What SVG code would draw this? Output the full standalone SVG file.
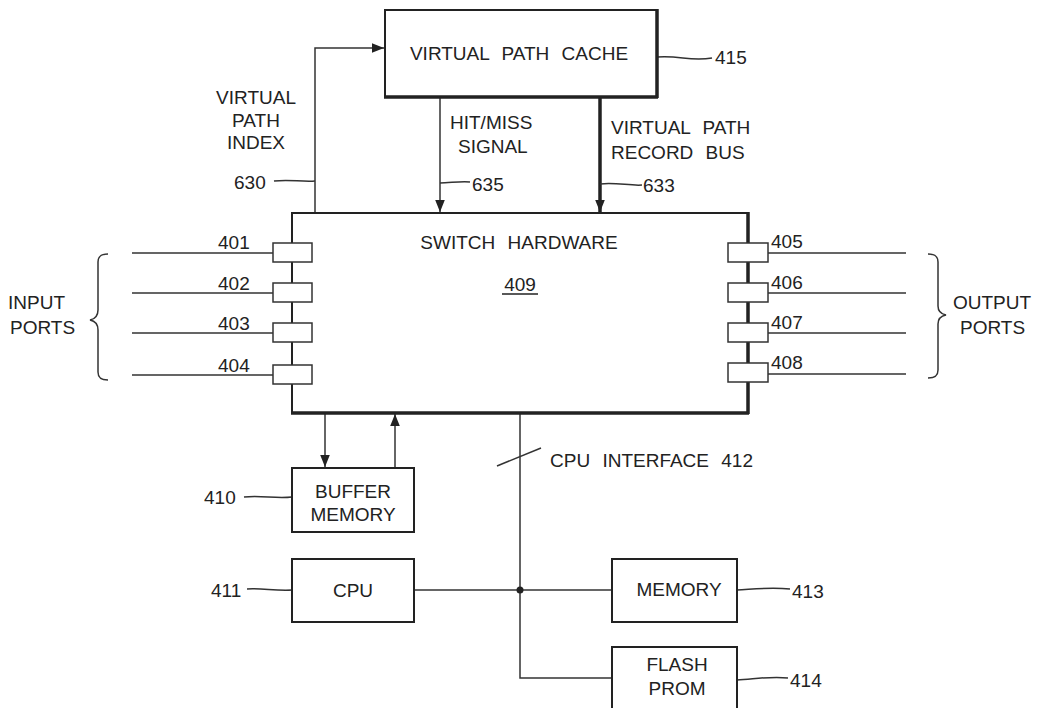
<svg xmlns="http://www.w3.org/2000/svg" width="1042" height="708" viewBox="0 0 1042 708">
<defs>
<style>
.box{fill:#fff;stroke:#222;stroke-width:2}
.thick{stroke:#222;stroke-width:3.5;fill:none}
.ln{stroke:#333;stroke-width:1.5;fill:none}
.port{fill:#fff;stroke:#333;stroke-width:1.5}
text{font-family:"Liberation Sans",Arial,sans-serif;font-size:19px;fill:#222;word-spacing:7px}
.c{text-anchor:middle}
</style>
<marker id="ahb" viewBox="0 0 10 10" refX="10" refY="5" markerWidth="14" markerHeight="12" markerUnits="userSpaceOnUse" orient="auto">
<path d="M0,1 L10,5 L0,9 z" fill="#222"/>
</marker>
</defs>
<rect width="1042" height="708" fill="#fff"/>

<g id="connectors">
<path class="ln" d="M315,213 V48 H384" marker-end="url(#ahb)"/>
<path class="ln" d="M440,97 V212" marker-end="url(#ahb)"/>
<path class="thick" d="M600,97 V212" marker-end="url(#ahb)"/>
<path class="ln" d="M325,413 V467" marker-end="url(#ahb)"/>
<path class="ln" d="M395,468 V414" marker-end="url(#ahb)"/>
<path class="ln" d="M520,413 V678 H612"/>
<path class="ln" d="M414,590 H612"/>
<circle cx="520" cy="590" r="3.5" fill="#222"/>
<path class="ln" d="M497,466 L541,448"/>
<path class="ln" d="M132,253 H273 M132,293 H273 M132,333 H273 M132,375 H273"/>
<path class="ln" d="M768,253 H906 M768,293 H906 M768,333 H906 M768,374 H906"/>
<path class="ln" d="M657,57 C680,55 690,62 712,58"/>
<path class="ln" d="M274,181 C290,179 300,182 315,181"/>
<path class="ln" d="M440,183 C450,183 460,181 470,182"/>
<path class="ln" d="M600,184 C615,182 630,186 642,185"/>
<path class="ln" d="M244,497 C262,495 275,499 292,497"/>
<path class="ln" d="M247,589 C262,588 275,591 292,590"/>
<path class="ln" d="M737,590 C755,589 770,587 790,589"/>
<path class="ln" d="M737,680 C755,679 770,676 788,678"/>
<path class="ln" d="M108,254 C100,254 98,257 98,262 V310 C98,316 95,319 90,320 C95,321 98,324 98,330 V372 C98,377 100,380 108,380"/>
<path class="ln" d="M928,254 C936,254 938,257 938,262 V306 C938,311 941,314 946,315 C941,316 938,319 938,324 V370 C938,375 936,378 928,378"/>
</g>

<g id="n415">
<rect class="box" x="385" y="10" width="272" height="87"/>
<path class="thick" d="M657,9 V98 M384,97 H658"/>
<text class="c" x="519" y="60">VIRTUAL PATH CACHE</text>
<text x="715" y="64">415</text>
</g>

<g id="labels-top">
<text class="c" x="256" y="104">VIRTUAL</text>
<text class="c" x="256" y="127">PATH</text>
<text class="c" x="256" y="149">INDEX</text>
<text x="234" y="189">630</text>
<text x="450" y="129">HIT/MISS</text>
<text x="458" y="153">SIGNAL</text>
<text x="472" y="191">635</text>
<text x="611" y="134">VIRTUAL PATH</text>
<text x="611" y="159">RECORD BUS</text>
<text x="643" y="192">633</text>
</g>

<g id="n409">
<rect class="box" x="292" y="213" width="456" height="200"/>
<path class="thick" d="M748,212 V414 M291,413 H749"/>
<text class="c" x="519" y="249">SWITCH HARDWARE</text>
<text class="c" x="520" y="291">409</text>
<path d="M502,294 H538" stroke="#222" stroke-width="1.3"/>
</g>

<g id="inputs">
<rect class="port" x="273" y="243" width="39" height="19"/>
<rect class="port" x="273" y="283" width="39" height="19"/>
<rect class="port" x="273" y="323" width="39" height="19"/>
<rect class="port" x="273" y="365" width="39" height="19"/>
<text x="218" y="249">401</text>
<text x="218" y="290">402</text>
<text x="218" y="330">403</text>
<text x="218" y="372">404</text>
<text x="8" y="309">INPUT</text>
<text x="10" y="334">PORTS</text>
</g>

<g id="outputs">
<rect class="port" x="728" y="243" width="40" height="19"/>
<rect class="port" x="728" y="283" width="40" height="19"/>
<rect class="port" x="728" y="323" width="40" height="19"/>
<rect class="port" x="728" y="363" width="40" height="19"/>
<text x="771" y="248">405</text>
<text x="771" y="289">406</text>
<text x="771" y="329">407</text>
<text x="771" y="369">408</text>
<text x="953" y="309">OUTPUT</text>
<text x="960" y="334">PORTS</text>
</g>

<g id="n410">
<rect class="box" x="292" y="468" width="122" height="64"/>
<text class="c" x="353" y="498">BUFFER</text>
<text class="c" x="353" y="521">MEMORY</text>
<text x="204" y="504">410</text>
</g>

<g id="n412">
<text x="550" y="467">CPU INTERFACE 412</text>
</g>

<g id="n411">
<rect class="box" x="292" y="559" width="122" height="63"/>
<text class="c" x="353" y="597">CPU</text>
<text x="211" y="597">411</text>
</g>

<g id="n413">
<rect class="box" x="612" y="559" width="125" height="63"/>
<text class="c" x="679" y="596">MEMORY</text>
<text x="792" y="598">413</text>
</g>

<g id="n414">
<rect class="box" x="612" y="647" width="125" height="70"/>
<text class="c" x="677" y="671">FLASH</text>
<text class="c" x="677" y="695">PROM</text>
<text x="790" y="687">414</text>
</g>
</svg>
